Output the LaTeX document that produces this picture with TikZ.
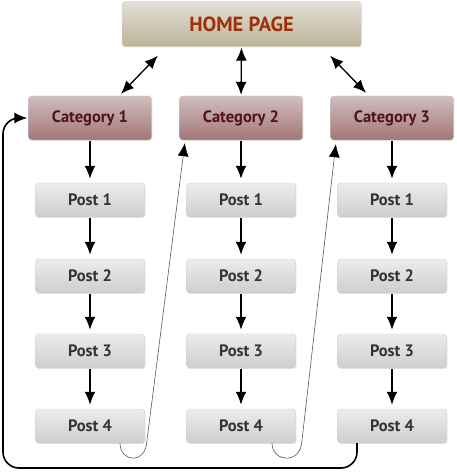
\documentclass[tikz,border=0pt]{standalone}
\usepackage{fontspec}
\setmainfont{PT Sans}
\usepackage{xcolor}
\usetikzlibrary{arrows.meta, shadows}

\definecolor{hometop}{RGB}{228,224,214}
\definecolor{homebot}{RGB}{188,178,152}
\definecolor{hometext}{RGB}{158,48,10}
\definecolor{cattop}{RGB}{208,190,190}
\definecolor{catbot}{RGB}{162,118,120}
\definecolor{cattext}{RGB}{78,18,24}
\definecolor{posttop}{RGB}{236,236,236}
\definecolor{postbot}{RGB}{206,206,206}
\definecolor{posttext}{RGB}{52,52,52}

\tikzset{
    boxbase/.style={draw=black!18, rounded corners=3pt, inner sep=0pt,
        drop shadow={shadow xshift=0.8pt, shadow yshift=-0.8pt, opacity=0.25}},
    homebox/.style={boxbase, top color=hometop, bottom color=homebot,
        minimum width=239pt, minimum height=45pt, text=hometext,
        font=\fontsize{20.5}{24}\selectfont\bfseries},
    catbox/.style={boxbase, top color=cattop, bottom color=catbot,
        minimum width=123pt, minimum height=44pt, text=cattext,
        font=\fontsize{16.5}{19}\selectfont\bfseries},
    postbox/.style={boxbase, top color=posttop, bottom color=postbot,
        minimum width=109pt, minimum height=34pt, text=posttext,
        font=\fontsize{16.5}{19}\selectfont\bfseries},
    downarrow/.style={->, line width=2pt, shorten <=1pt, shorten >=4pt},
    homearrow/.style={<->, line width=1.3pt},
    thinloop/.style={-{Latex[length=13pt,width=11pt,color=black]},
        line width=0.6pt, black!65},
}

\begin{document}
\begin{tikzpicture}[>={Latex[length=13pt,width=11pt]}, x=1pt, y=1pt]
    \useasboundingbox (0,0) rectangle (457,474);

    % 1. Trang chu
    \node[homebox] (home) at (241.5,450) {HOME PAGE};

    % 2. Cac danh muc
    \node[catbox] (cat1) at (90,356) {Category 1};
    \node[catbox] (cat2) at (241,356) {Category 2};
    \node[catbox] (cat3) at (392,356) {Category 3};

    % 3. Cac bai viet
    \node[postbox] (p11) at (90,274) {Post 1};
    \node[postbox] (p12) at (90,198) {Post 2};
    \node[postbox] (p13) at (90,123) {Post 3};
    \node[postbox] (p14) at (90,48) {Post 4};

    \node[postbox] (p21) at (241,274) {Post 1};
    \node[postbox] (p22) at (241,198) {Post 2};
    \node[postbox] (p23) at (241,123) {Post 3};
    \node[postbox] (p24) at (241,48) {Post 4};

    \node[postbox] (p31) at (392,274) {Post 1};
    \node[postbox] (p32) at (392,198) {Post 2};
    \node[postbox] (p33) at (392,123) {Post 3};
    \node[postbox] (p34) at (392,48) {Post 4};

    % 4. Mui ten trang chu - danh muc
    \draw[homearrow] ([shift={(36,-9)}]home.south west)
        -- ([shift={(31,2)}]cat1.north);
    \draw[homearrow] ([yshift=-1pt]home.south)
        -- ([yshift=1pt]cat2.north);
    \draw[homearrow] ([shift={(-31,-9)}]home.south east)
        -- ([shift={(-26,3)}]cat3.north);

    % 5. Mui ten doc
    \draw[downarrow] (cat1) -- (p11);
    \draw[downarrow] (p11) -- (p12);
    \draw[downarrow] (p12) -- (p13);
    \draw[downarrow] (p13) -- (p14);

    \draw[downarrow] (cat2) -- (p21);
    \draw[downarrow] (p21) -- (p22);
    \draw[downarrow] (p22) -- (p23);
    \draw[downarrow] (p23) -- (p24);

    \draw[downarrow] (cat3) -- (p31);
    \draw[downarrow] (p31) -- (p32);
    \draw[downarrow] (p32) -- (p33);
    \draw[downarrow] (p33) -- (p34);

    % 6. Duong vong
    \draw[thinloop] ([xshift=30pt]p14.south)
        .. controls ([shift={(30,-19)}]p14.south) and ([shift={(56,-22)}]p14.south)
        .. ([shift={(57,3)}]p14.south) -- ([shift={(5.5,-3)}]cat2.south west);
    \draw[thinloop] ([xshift=31pt]p24.south)
        .. controls ([shift={(31,-19)}]p24.south) and ([shift={(60,-22)}]p24.south)
        .. ([shift={(61,3)}]p24.south) -- ([shift={(5.5,-4)}]cat3.south west);
    \draw[->, line width=1.6pt, rounded corners=16pt]
        ([xshift=-35pt]p34.south) |- (3,6) |- ([xshift=-1pt]cat1.west);
\end{tikzpicture}
\end{document}
